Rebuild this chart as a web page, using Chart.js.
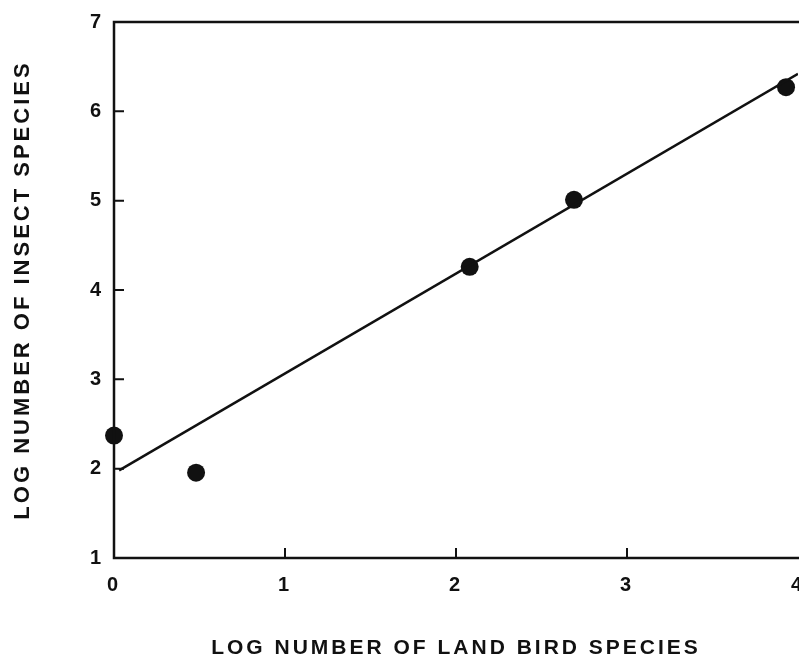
<!DOCTYPE html>
<html>
<head>
<meta charset="utf-8">
<script src="https://cdn.jsdelivr.net/npm/chart.js@4.4.1/dist/chart.umd.min.js"></script>
<style>
  html, body { margin: 0; padding: 0; background: #ffffff; }
  #wrap { width: 799px; height: 664px; }
</style>
</head>
<body>
<div id="wrap"><canvas id="c" width="799" height="664"></canvas></div>
<script>
// Data
const xLogBirds = [0.0, 0.48, 2.08, 2.69, 3.93];
const yLogInsects = [2.37, 1.955, 4.26, 5.01, 6.27];
const fitX = [0.03, 4.0];
const fitY = [1.98, 6.42];
const xTicks = [0, 1, 2, 3, 4];
const yTicks = [1, 2, 3, 4, 5, 6, 7];
const xTitle = 'LOG NUMBER OF LAND BIRD SPECIES';
const yTitle = 'LOG NUMBER OF INSECT SPECIES';

const FONT = "'Liberation Sans', Arial, Helvetica, sans-serif";
const INK = '#111111';

const pts = xLogBirds.map((x, i) => ({ x: x, y: yLogInsects[i] }));
const fit = fitX.map((x, i) => ({ x: x, y: fitY[i] }));

const framePlugin = {
  id: 'frameAndInnerTicks',
  beforeDraw(chart) {
    chart.ctx.letterSpacing = '3px';
  },
  afterDraw(chart) {
    const ctx = chart.ctx;
    const a = chart.chartArea;
    const xs = chart.scales.x, ys = chart.scales.y;
    ctx.save();
    ctx.letterSpacing = '0px';
    ctx.strokeStyle = INK;
    ctx.lineWidth = 2.5;
    ctx.lineCap = 'square';
    ctx.beginPath();
    ctx.moveTo(a.right + 2, a.top);
    ctx.lineTo(a.left, a.top);
    ctx.lineTo(a.left, a.bottom);
    ctx.lineTo(a.right + 2, a.bottom);
    ctx.stroke();
    ctx.lineWidth = 2;
    ctx.lineCap = 'butt';
    ctx.beginPath();
    xTicks.forEach(v => {
      if (v <= xs.min || v >= xs.max) return;
      const px = xs.getPixelForValue(v);
      ctx.moveTo(px, a.bottom);
      ctx.lineTo(px, a.bottom - 10);
    });
    yTicks.forEach(v => {
      if (v <= ys.min || v >= ys.max) return;
      const py = ys.getPixelForValue(v);
      ctx.moveTo(a.left, py);
      ctx.lineTo(a.left + 10, py);
    });
    ctx.stroke();
    ctx.restore();
    ctx.letterSpacing = '0px';
  }
};

new Chart(document.getElementById('c'), {
  type: 'scatter',
  data: {
    datasets: [
      {
        label: 'fit',
        type: 'line',
        data: fit,
        borderColor: INK,
        borderWidth: 2.5,
        pointRadius: 0,
        fill: false,
        tension: 0
      },
      {
        label: 'islands',
        data: pts,
        backgroundColor: INK,
        borderColor: INK,
        pointRadius: 9,
        pointHoverRadius: 9,
        borderWidth: 0,
        clip: false
      }
    ]
  },
  options: {
    responsive: false,
    animation: false,
    events: [],
    layout: { autoPadding: false, padding: { left: 0, top: 22, right: 1, bottom: 0 } },
    plugins: { legend: { display: false }, tooltip: { enabled: false }, title: { display: false } },
    scales: {
      x: {
        type: 'linear',
        min: 0, max: 4,
        afterBuildTicks(s) { s.ticks = xTicks.map(v => ({ value: v })); },
        afterFit(s) { s.height = 106; s.paddingLeft = 0; s.paddingRight = 0; },
        grid: { display: false, drawTicks: false },
        border: { display: false },
        ticks: {
          color: INK, padding: 15,
          font: { family: FONT, size: 20, weight: 'bold' },
          maxRotation: 0, autoSkip: false
        },
        title: {
          display: true, text: xTitle, color: INK,
          font: { family: FONT, size: 21, weight: 'bold' },
          padding: { top: 0, bottom: 3 }
        }
      },
      y: {
        type: 'linear',
        min: 1, max: 7,
        afterBuildTicks(s) { s.ticks = yTicks.map(v => ({ value: v })); },
        afterFit(s) { s.width = 114; s.paddingTop = 0; s.paddingBottom = 0; },
        grid: { display: false, drawTicks: false },
        border: { display: false },
        ticks: {
          color: INK, padding: 10,
          font: { family: FONT, size: 20, weight: 'bold' },
          autoSkip: false
        },
        title: {
          display: true, text: yTitle, color: INK,
          font: { family: FONT, size: 22, weight: 'bold' },
          padding: { top: 10, bottom: 0 }
        }
      }
    }
  },
  plugins: [framePlugin]
});
</script>
</body>
</html>
